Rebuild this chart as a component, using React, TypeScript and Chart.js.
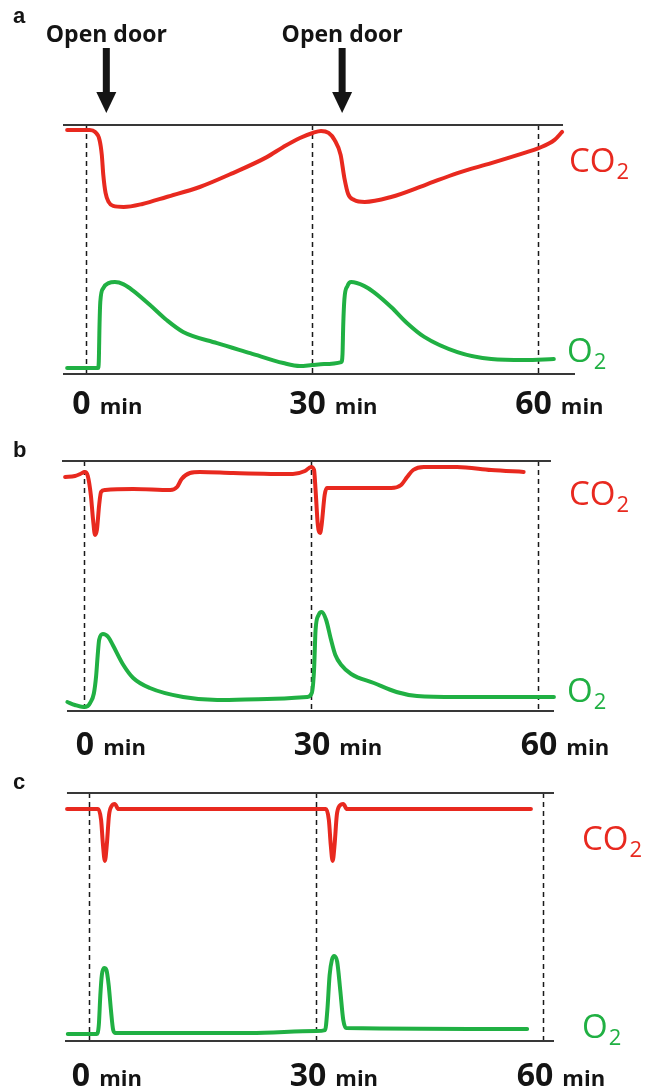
import React, { useEffect, useRef } from "react";
import { Chart, registerables } from "chart.js";

Chart.register(...registerables);

type Pt = [number, number];

// ---------------- data (time in min, signal in % of panel height) ----------------
const TICK_MINUTES = [0, 30, 60];
const TICK_UNIT = "min";
const DOOR_LABEL = "Open door";
const DOOR_TIMES_A = [2.7, 34.0];
const CO2_LABEL = ["CO", "2"];
const O2_LABEL = ["O", "2"];

const A_CO2: Pt[] = [
  [-2.5, 98.0], [0.5, 98.0], [1.2, 97.2], [1.8, 94.0], [2.1, 88.0], [2.3, 79.9], [2.6, 72.7],
  [3.0, 69.1], [3.6, 67.5], [5.0, 67.1], [7.5, 68.3], [10.7, 71.1], [15.1, 75.1], [19.5, 80.7],
  [24.0, 87.1], [26.2, 91.2], [28.4, 94.8], [30.1, 96.8], [31.2, 97.6], [32.2, 96.8], [33.0, 94.0],
  [33.8, 88.0], [34.3, 78.7], [34.8, 72.3], [35.6, 69.9], [37.0, 69.1], [40.5, 71.1], [45.0, 75.9],
  [49.3, 80.7], [53.8, 84.7], [58.2, 88.8], [60.0, 90.6], [62.2, 94.0], [63.2, 97.2],
];
const A_O2: Pt[] = [
  [-2.5, 2.4], [1.6, 2.4], [1.7, 5.0], [1.8, 20.0], [1.9, 29.0], [2.3, 34.5], [3.0, 36.5],
  [3.85, 36.9], [5.0, 36.0], [6.2, 33.6], [8.5, 27.7], [10.7, 21.7], [12.9, 16.9], [17.4, 12.4],
  [21.8, 8.4], [26.2, 4.4], [28.4, 3.2], [30.0, 3.6], [31.6, 4.0], [33.9, 4.8], [34.05, 8.0],
  [34.15, 20.0], [34.3, 30.0], [34.7, 35.3], [35.2, 36.9], [36.9, 35.4], [38.2, 32.9], [40.5, 26.9],
  [42.6, 20.5], [44.9, 14.9], [49.3, 8.8], [53.8, 6.0], [58.2, 5.6], [62.1, 6.0],
];
const B_CO2: Pt[] = [
  [-2.5, 93.6], [-1.2, 94.0], [-0.5, 94.8], [0.1, 95.6], [0.5, 94.0], [0.9, 86.4], [1.2, 76.4],
  [1.45, 70.4], [1.7, 72.4], [2.0, 82.4], [2.25, 87.6], [2.8, 88.4], [6.5, 88.8], [11.4, 88.4],
  [12.3, 89.6], [12.9, 92.8], [14.0, 95.2], [15.3, 95.6], [19.7, 95.2], [27.6, 94.8], [29.2, 96.0],
  [30.0, 97.6], [30.4, 96.4], [30.6, 88.4], [30.9, 74.4], [31.2, 71.2], [31.4, 74.4], [31.8, 86.4],
  [32.1, 89.2], [33.8, 89.2], [40.6, 89.2], [41.9, 90.4], [42.7, 93.6], [43.5, 96.4], [44.9, 97.6],
  [49.3, 97.6], [53.8, 96.4], [58.1, 95.6],
];
const B_O2: Pt[] = [
  [-2.2, 3.6], [-1.2, 2.4], [-0.1, 1.6], [0.5, 2.0], [0.8, 3.2], [1.3, 7.0], [1.6, 14.0],
  [1.8, 22.0], [2.0, 28.5], [2.5, 30.8], [3.2, 29.6], [3.8, 26.4], [5.2, 18.4], [6.5, 13.2],
  [8.7, 9.2], [13.1, 5.6], [17.6, 4.4], [24.2, 4.8], [29.5, 5.6], [30.1, 7.2], [30.4, 16.4],
  [30.6, 32.4], [31.0, 38.4], [31.4, 39.6], [32.0, 36.4], [32.6, 29.0], [33.2, 22.5], [34.0, 18.4],
  [35.3, 14.8], [38.3, 11.2], [41.3, 7.6], [44.0, 6.0], [49.3, 5.6], [62.1, 5.6],
];
const C_CO2: Pt[] = [
  [-2.9, 93.5], [1.2, 93.5], [1.6, 89.1], [1.85, 79.0], [2.1, 72.6], [2.35, 79.0], [2.65, 91.1],
  [3.0, 94.8], [3.4, 95.6], [3.9, 93.5], [31.3, 93.5], [31.7, 89.1], [31.95, 79.0], [32.2, 72.6],
  [32.45, 79.0], [32.75, 91.1], [33.1, 94.8], [33.6, 95.6], [34.1, 93.5], [58.4, 93.5],
];
const C_O2: Pt[] = [
  [-2.8, 2.8], [1.0, 2.8], [1.3, 6.5], [1.5, 18.5], [1.7, 26.6], [2.0, 29.4], [2.3, 28.6],
  [2.6, 22.6], [2.9, 12.5], [3.2, 4.4], [3.5, 3.2], [21.3, 3.2], [30.0, 4.0], [31.2, 4.4],
  [31.5, 12.5], [31.8, 26.6], [32.1, 32.7], [32.4, 34.3], [32.8, 31.9], [33.2, 20.6], [33.6, 8.5],
  [34.0, 5.2], [57.9, 4.8],
];

// ---------------- styling / layout ----------------
const RED = "#e8291f";
const GREEN = "#20b043";
const INK = "#141414";
const RULE = "#383838";
const FONT = "'Open Sans', 'Noto Sans', sans-serif";
const W = 648;

type PanelCfg = {
  letter: string;
  top: number;
  height: number;
  area: { l: number; r: number; t: number; b: number };
  xMin: number;
  xMax: number;
  topLine: [number, number];
  bottomLine: [number, number];
  co2: Pt[];
  o2: Pt[];
  letterPos: [number, number];
  co2Pos: [number, number];
  o2Pos: [number, number];
  tickDx: number;
  tickDy: number;
  doors: number[];
};

const PANELS: PanelCfg[] = [
  {
    letter: "a", top: 0, height: 432,
    area: { l: 63, r: 575, t: 125, b: 374 },
    xMin: -3.05, xMax: 64.91, topLine: [-3.05, 63.32], bottomLine: [-3.05, 64.91],
    co2: A_CO2, o2: A_O2,
    letterPos: [13, 23], co2Pos: [569, 172], o2Pos: [567, 362],
    tickDx: -4.5, tickDy: 40, doors: DOOR_TIMES_A,
  },
  {
    letter: "b", top: 432, height: 334,
    area: { l: 62, r: 554, t: 461, b: 711 },
    xMin: -2.91, xMax: 62.11, topLine: [-2.91, 61.71], bottomLine: [-2.25, 62.11],
    co2: B_CO2, o2: B_O2,
    letterPos: [13, 457], co2Pos: [569, 505], o2Pos: [567, 702],
    tickDx: 1, tickDy: 44, doors: [],
  },
  {
    letter: "c", top: 766, height: 325,
    area: { l: 65, r: 554, t: 793, b: 1041 },
    xMin: -3.17, xMax: 61.45, topLine: [-2.91, 61.45], bottomLine: [-3.17, 61.45],
    co2: C_CO2, o2: C_O2,
    letterPos: [13, 789], co2Pos: [582, 850], o2Pos: [582, 1038],
    tickDx: -8, tickDy: 45, doors: [],
  },
];

function drawGas(ctx: CanvasRenderingContext2D, parts: string[], x: number, y: number, color: string) {
  ctx.fillStyle = color;
  ctx.textAlign = "left";
  ctx.font = `33px ${FONT}`;
  ctx.fillText(parts[0], x, y);
  const w = ctx.measureText(parts[0]).width;
  ctx.font = `22px ${FONT}`;
  ctx.fillText(parts[1], x + w + 1, y + 7);
}

function makeOverlay(p: PanelCfg) {
  return {
    id: "overlay_" + p.letter,
    beforeDatasetsDraw(chart: any) {
      const ctx: CanvasRenderingContext2D = chart.ctx;
      const xs = chart.scales.x;
      const ca = chart.chartArea;
      ctx.save();
      ctx.strokeStyle = "#1a1a1a";
      ctx.lineWidth = 1.5;
      ctx.setLineDash([5, 4]);
      for (const t of TICK_MINUTES) {
        const px = Math.round(xs.getPixelForValue(t)) + 0.5;
        ctx.beginPath();
        ctx.moveTo(px, ca.top);
        ctx.lineTo(px, ca.bottom);
        ctx.stroke();
      }
      ctx.setLineDash([]);
      ctx.strokeStyle = RULE;
      ctx.lineWidth = 2;
      ctx.beginPath();
      ctx.moveTo(xs.getPixelForValue(p.topLine[0]), ca.top);
      ctx.lineTo(xs.getPixelForValue(p.topLine[1]), ca.top);
      ctx.stroke();
      ctx.beginPath();
      ctx.moveTo(xs.getPixelForValue(p.bottomLine[0]), ca.bottom);
      ctx.lineTo(xs.getPixelForValue(p.bottomLine[1]), ca.bottom);
      ctx.stroke();
      ctx.restore();
    },
    afterDraw(chart: any) {
      const ctx: CanvasRenderingContext2D = chart.ctx;
      const xs = chart.scales.x;
      const ca = chart.chartArea;
      ctx.save();
      ctx.textBaseline = "alphabetic";
      // panel letter
      ctx.fillStyle = INK;
      ctx.textAlign = "left";
      ctx.font = `bold 22px 'Liberation Sans', Arial, sans-serif`;
      ctx.fillText(p.letter, p.letterPos[0], p.letterPos[1] - p.top);
      // tick labels
      for (const t of TICK_MINUTES) {
        const cx = xs.getPixelForValue(t) + p.tickDx;
        const yb = ca.bottom + p.tickDy;
        ctx.font = `bold 32px ${FONT}`;
        const s = String(t);
        const w = ctx.measureText(s).width;
        ctx.fillText(s, cx - w / 2, yb);
        ctx.font = `bold 22px ${FONT}`;
        ctx.fillText(TICK_UNIT, cx + w / 2 + 9, yb);
      }
      // gas labels
      drawGas(ctx, CO2_LABEL, p.co2Pos[0], p.co2Pos[1] - p.top, RED);
      drawGas(ctx, O2_LABEL, p.o2Pos[0], p.o2Pos[1] - p.top, GREEN);
      // door arrows
      for (const t of p.doors) {
        const ax = xs.getPixelForValue(t);
        ctx.fillStyle = INK;
        ctx.font = `bold 23px ${FONT}`;
        ctx.textAlign = "center";
        ctx.fillText(DOOR_LABEL, ax, 42 - p.top);
        ctx.fillRect(ax - 3.5, 48 - p.top, 7, 46);
        ctx.beginPath();
        ctx.moveTo(ax - 10, 92 - p.top);
        ctx.lineTo(ax + 10, 92 - p.top);
        ctx.lineTo(ax, 113 - p.top);
        ctx.closePath();
        ctx.fill();
      }
      ctx.restore();
    },
  };
}

function Panel({ p }: { p: PanelCfg }) {
  const ref = useRef<HTMLCanvasElement>(null);
  useEffect(() => {
    const canvas = ref.current;
    if (!canvas) return;
    const line = (data: Pt[], color: string) => ({
      data: data.map(([x, y]) => ({ x, y })),
      borderColor: color,
      backgroundColor: color,
      borderWidth: 4,
      pointRadius: 0,
      fill: false,
      cubicInterpolationMode: "monotone" as const,
      borderCapStyle: "round" as const,
      borderJoinStyle: "round" as const,
      clip: false as const,
    });
    const chart = new Chart(canvas, {
      type: "line",
      data: { datasets: [line(p.co2, RED), line(p.o2, GREEN)] },
      options: {
        responsive: false,
        animation: false,
        devicePixelRatio: 1,
        events: [],
        layout: {
          padding: {
            left: p.area.l,
            right: W - p.area.r,
            top: p.area.t - p.top,
            bottom: p.top + p.height - p.area.b,
          },
        },
        plugins: { legend: { display: false }, tooltip: { enabled: false }, title: { display: false } },
        scales: {
          x: { type: "linear", min: p.xMin, max: p.xMax, display: false },
          y: { type: "linear", min: 0, max: 100, display: false },
        },
      },
      plugins: [makeOverlay(p)],
    });
    return () => chart.destroy();
  }, [p]);
  return (
    <canvas
      ref={ref}
      width={W}
      height={p.height}
      style={{ position: "absolute", left: 0, top: p.top, width: W, height: p.height, display: "block" }}
    />
  );
}

export default function App() {
  return (
    <div style={{ position: "absolute", left: 0, top: 0, width: W, height: 1091, background: "#fff", overflow: "hidden" }}>
      {PANELS.map((p) => (
        <Panel key={p.letter} p={p} />
      ))}
    </div>
  );
}
